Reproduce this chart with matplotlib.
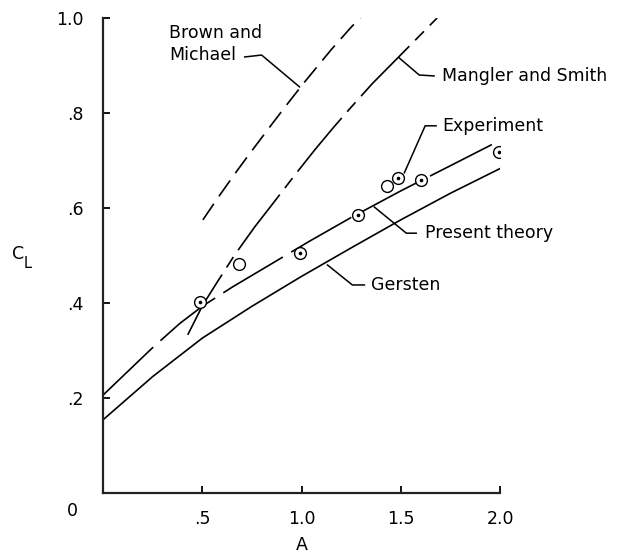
import matplotlib
matplotlib.use("Agg")
import matplotlib.pyplot as plt

plt.rcParams['font.family'] = ['DejaVu Sans']
plt.rcParams['lines.scale_dashes'] = False

# Data
gersten_A = [0.0, 0.25, 0.5, 0.75, 1.0, 1.25, 1.5, 1.75, 2.0]
gersten_CL = [0.154, 0.245, 0.326, 0.393, 0.456, 0.516, 0.575, 0.631, 0.683]

present_A = [0.0, 0.25, 0.387, 0.5, 0.653, 0.75, 1.04, 1.25, 1.5, 1.75, 1.98]
present_CL = [0.206, 0.306, 0.357, 0.393, 0.434, 0.458, 0.530, 0.580, 0.636, 0.689, 0.738]

mangler_A = [0.427, 0.503, 0.58, 0.663, 0.764, 0.87, 0.975, 1.07, 1.16, 1.241, 1.357, 1.492, 1.683]
mangler_CL = [0.333, 0.396, 0.447, 0.501, 0.560, 0.617, 0.674, 0.724, 0.769, 0.808, 0.862, 0.919, 1.0]

brown_A = [0.503, 0.588, 0.678, 0.749, 0.839, 0.925, 1.015, 1.151, 1.251, 1.307]
brown_CL = [0.575, 0.627, 0.680, 0.720, 0.770, 0.817, 0.865, 0.934, 0.981, 1.005]

exp_A = [0.487, 0.683, 0.99, 1.286, 1.43, 1.487, 1.60, 1.995]
exp_CL = [0.402, 0.482, 0.505, 0.585, 0.646, 0.663, 0.659, 0.718]
exp_dotted = [True, False, True, True, False, True, True, True]

xticks = [0.5, 1.0, 1.5, 2.0]
xticklabels = ['.5', '1.0', '1.5', '2.0']
yticks = [0.2, 0.4, 0.6, 0.8, 1.0]
yticklabels = ['.2', '.4', '.6', '.8', '1.0']

W, H = 619, 553
fig = plt.figure(figsize=(W / 100, H / 100), dpi=100)
ax = fig.add_axes([103 / W, 1 - 493 / H, (500 - 103) / W, (493 - 18) / H])
ax.set_xlim(0, 2.0)
ax.set_ylim(0, 1.0)
for s in ['top', 'right']:
    ax.spines[s].set_visible(False)
for s in ['left', 'bottom']:
    ax.spines[s].set_linewidth(1.6)
    ax.spines[s].set_color('#222222')

fs = 12.5
ax.set_xticks(xticks)
ax.set_xticklabels(xticklabels, fontsize=fs)
ax.set_yticks(yticks)
ax.set_yticklabels(yticklabels, fontsize=fs)
ax.tick_params(axis='both', direction='in', length=5, width=1.3, colors='black')
ax.tick_params(axis='y', pad=13.7)
ax.tick_params(axis='x', pad=12)

lw = 1.2
ax.plot(gersten_A, gersten_CL, color='black', lw=lw)
ax.plot(present_A, present_CL, color='black', lw=lw, dashes=(50, 7))
ax.plot(mangler_A, mangler_CL, color='black', lw=lw, dashes=(50, 6, 9, 6))
ax.plot(brown_A, brown_CL, color='black', lw=lw, dashes=(14, 6.5))

ax.plot(exp_A, exp_CL, linestyle='none', marker='o', markersize=8.5,
        markerfacecolor='white', markeredgecolor='black', markeredgewidth=1.0, zorder=5)
dot_A = [a for a, d in zip(exp_A, exp_dotted) if d]
dot_CL = [c for c, d in zip(exp_CL, exp_dotted) if d]
ax.plot(dot_A, dot_CL, linestyle='none', marker='o', markersize=1.6,
        color='black', zorder=6)

# labels with leader lines
def leader(xs, ys):
    ax.plot(xs, ys, color='black', lw=1.1, clip_on=False)

leader([0.714, 0.799, 0.99], [0.918, 0.922, 0.855])
ax.text(0.332, 0.945, 'Brown and\nMichael', fontsize=fs, va='center', ha='left',
        linespacing=1.25)

leader([1.492, 1.593, 1.668], [0.916, 0.880, 0.878])
ax.text(1.709, 0.878, 'Mangler and Smith', fontsize=fs, va='center', ha='left')

leader([1.518, 1.623, 1.678], [0.674, 0.773, 0.773])
ax.text(1.709, 0.773, 'Experiment', fontsize=fs, va='center', ha='left')

leader([1.367, 1.528, 1.578], [0.602, 0.547, 0.547])
ax.text(1.623, 0.547, 'Present theory', fontsize=fs, va='center', ha='left')

leader([1.131, 1.256, 1.317], [0.48, 0.438, 0.438])
ax.text(1.352, 0.438, 'Gersten', fontsize=fs, va='center', ha='left')

fig.text(72 / W, 1 - 511 / H, '0', fontsize=fs, ha='center', va='center')
fig.text(302 / W, 1 - 545 / H, 'A', fontsize=fs, ha='center', va='center')
fig.text(18 / W, 1 - 254 / H, 'C', fontsize=fs, ha='center', va='center')
fig.text(28 / W, 1 - 263 / H, 'L', fontsize=10.5, ha='center', va='center')

fig.savefig('out.png', dpi=100)
